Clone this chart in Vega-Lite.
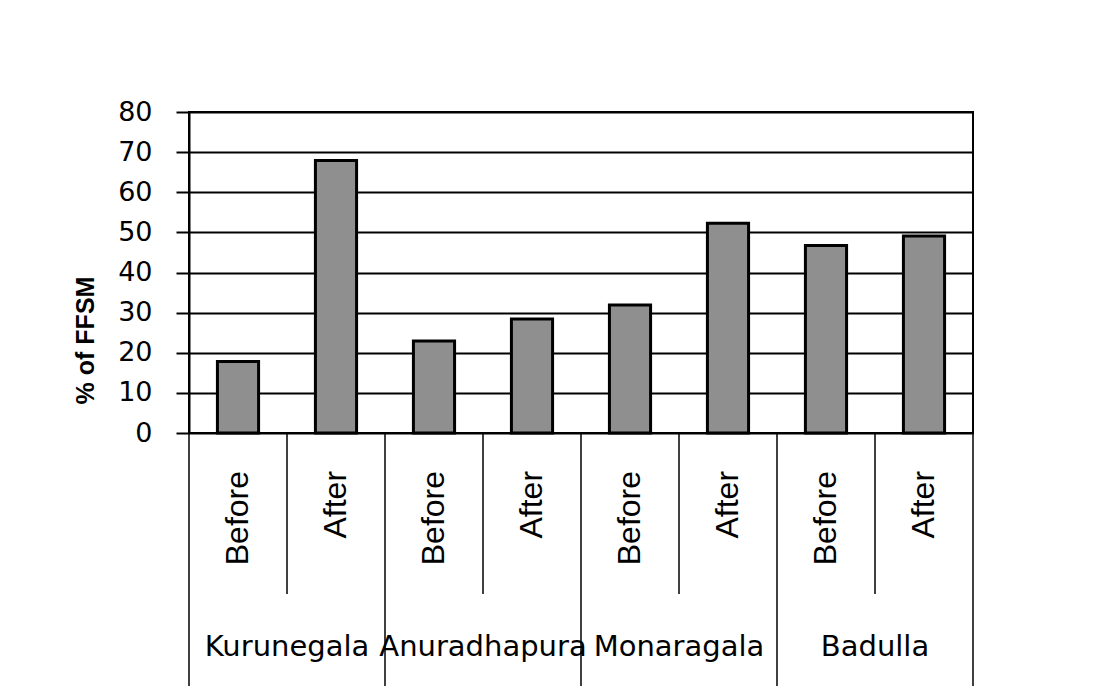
{
  "$schema": "https://vega.github.io/schema/vega-lite/v6.json",
  "autosize": {"type": "pad"},
  "padding": {"left": 72, "top": 97, "right": 0, "bottom": 0},
  "background": "white",
  "bounds": "flush",
  "spacing": 0,
  "data": {
    "values": [
      {"key": "Kurunegala Before", "region": "Kurunegala", "period": "Before", "value": 17.8},
      {"key": "Kurunegala After", "region": "Kurunegala", "period": "After", "value": 67.9},
      {"key": "Anuradhapura Before", "region": "Anuradhapura", "period": "Before", "value": 22.9},
      {"key": "Anuradhapura After", "region": "Anuradhapura", "period": "After", "value": 28.4},
      {"key": "Monaragala Before", "region": "Monaragala", "period": "Before", "value": 31.9},
      {"key": "Monaragala After", "region": "Monaragala", "period": "After", "value": 52.3},
      {"key": "Badulla Before", "region": "Badulla", "period": "Before", "value": 46.7},
      {"key": "Badulla After", "region": "Badulla", "period": "After", "value": 49.1}
    ]
  },
  "vconcat": [
    {
      "width": 784,
      "height": 321,
      "view": {"stroke": "black", "strokeWidth": 2},
      "mark": {"type": "bar", "fill": "#8f8f8f", "stroke": "black", "strokeWidth": 3},
      "encoding": {
        "x": {
          "field": "key",
          "type": "nominal",
          "scale": {
            "domain": ["Kurunegala Before", "Kurunegala After", "Anuradhapura Before", "Anuradhapura After", "Monaragala Before", "Monaragala After", "Badulla Before", "Badulla After"],
            "paddingInner": 0.58, "paddingOuter": 0.29
          },
          "axis": null
        },
        "y": {
          "field": "value",
          "type": "quantitative",
          "scale": {"domain": [0, 80], "nice": false},
          "axis": {
            "values": [0, 10, 20, 30, 40, 50, 60, 70, 80],
            "title": "% of FFSM",
            "titleFont": "Liberation Sans",
            "titleFontSize": 25,
            "titleFontWeight": "bold",
            "titleColor": "black",
            "titleAngle": 270,
            "titleAlign": "center",
            "titleBaseline": "middle",
            "titleX": -104,
            "titleY": 228,
            "labelFont": "DejaVu Sans",
            "labelFontSize": 27,
            "labelColor": "black",
            "labelPadding": 24,
            "tickSize": 13,
            "tickColor": "black",
            "tickWidth": 2,
            "domainColor": "black",
            "domainWidth": 2,
            "grid": true,
            "gridColor": "black",
            "gridWidth": 2,
            "gridOpacity": 1
          }
        }
      }
    },
    {
      "width": 784,
      "height": 253,
      "view": {"stroke": null},
      "encoding": {
        "x": {
          "field": "key",
          "type": "nominal",
          "scale": {
            "domain": ["Kurunegala Before", "Kurunegala After", "Anuradhapura Before", "Anuradhapura After", "Monaragala Before", "Monaragala After", "Badulla Before", "Badulla After"],
            "paddingInner": 0, "paddingOuter": 0
          },
          "axis": null
        }
      },
      "layer": [
        {
          "transform": [{"filter": "datum.period === 'After'"}],
          "mark": {"type": "rule", "color": "black", "strokeWidth": 1.5},
          "encoding": {
            "x": {"field": "key", "type": "nominal", "bandPosition": 0},
            "y": {"datum": 0, "type": "quantitative", "scale": {"domain": [0, 1], "reverse": true, "nice": false}, "axis": null},
            "y2": {"datum": 0.636}
          }
        },
        {
          "transform": [{"filter": "datum.period === 'Before'"}],
          "mark": {"type": "rule", "color": "black", "strokeWidth": 1.5},
          "encoding": {
            "x": {"field": "key", "type": "nominal", "bandPosition": 0},
            "y": {"datum": 0, "type": "quantitative"},
            "y2": {"datum": 1}
          }
        },
        {
          "transform": [{"filter": "datum.key === 'Badulla After'"}],
          "mark": {"type": "rule", "color": "black", "strokeWidth": 1.5},
          "encoding": {
            "x": {"field": "key", "type": "nominal", "bandPosition": 1},
            "y": {"datum": 0, "type": "quantitative"},
            "y2": {"datum": 1}
          }
        },
        {
          "mark": {"type": "text", "angle": 270, "align": "right", "baseline": "middle", "font": "Liberation Sans", "fontSize": 32, "color": "black"},
          "encoding": {
            "x": {"field": "key", "type": "nominal", "bandPosition": 0.5},
            "y": {"datum": 0.15, "type": "quantitative"},
            "text": {"field": "period"}
          }
        },
        {
          "transform": [{"filter": "datum.period === 'Before'"}],
          "mark": {"type": "text", "align": "center", "baseline": "alphabetic", "font": "DejaVu Sans", "fontSize": 29, "color": "black"},
          "encoding": {
            "x": {"field": "key", "type": "nominal", "bandPosition": 1},
            "y": {"datum": 0.881, "type": "quantitative"},
            "text": {"field": "region"}
          }
        }
      ]
    }
  ]
}
